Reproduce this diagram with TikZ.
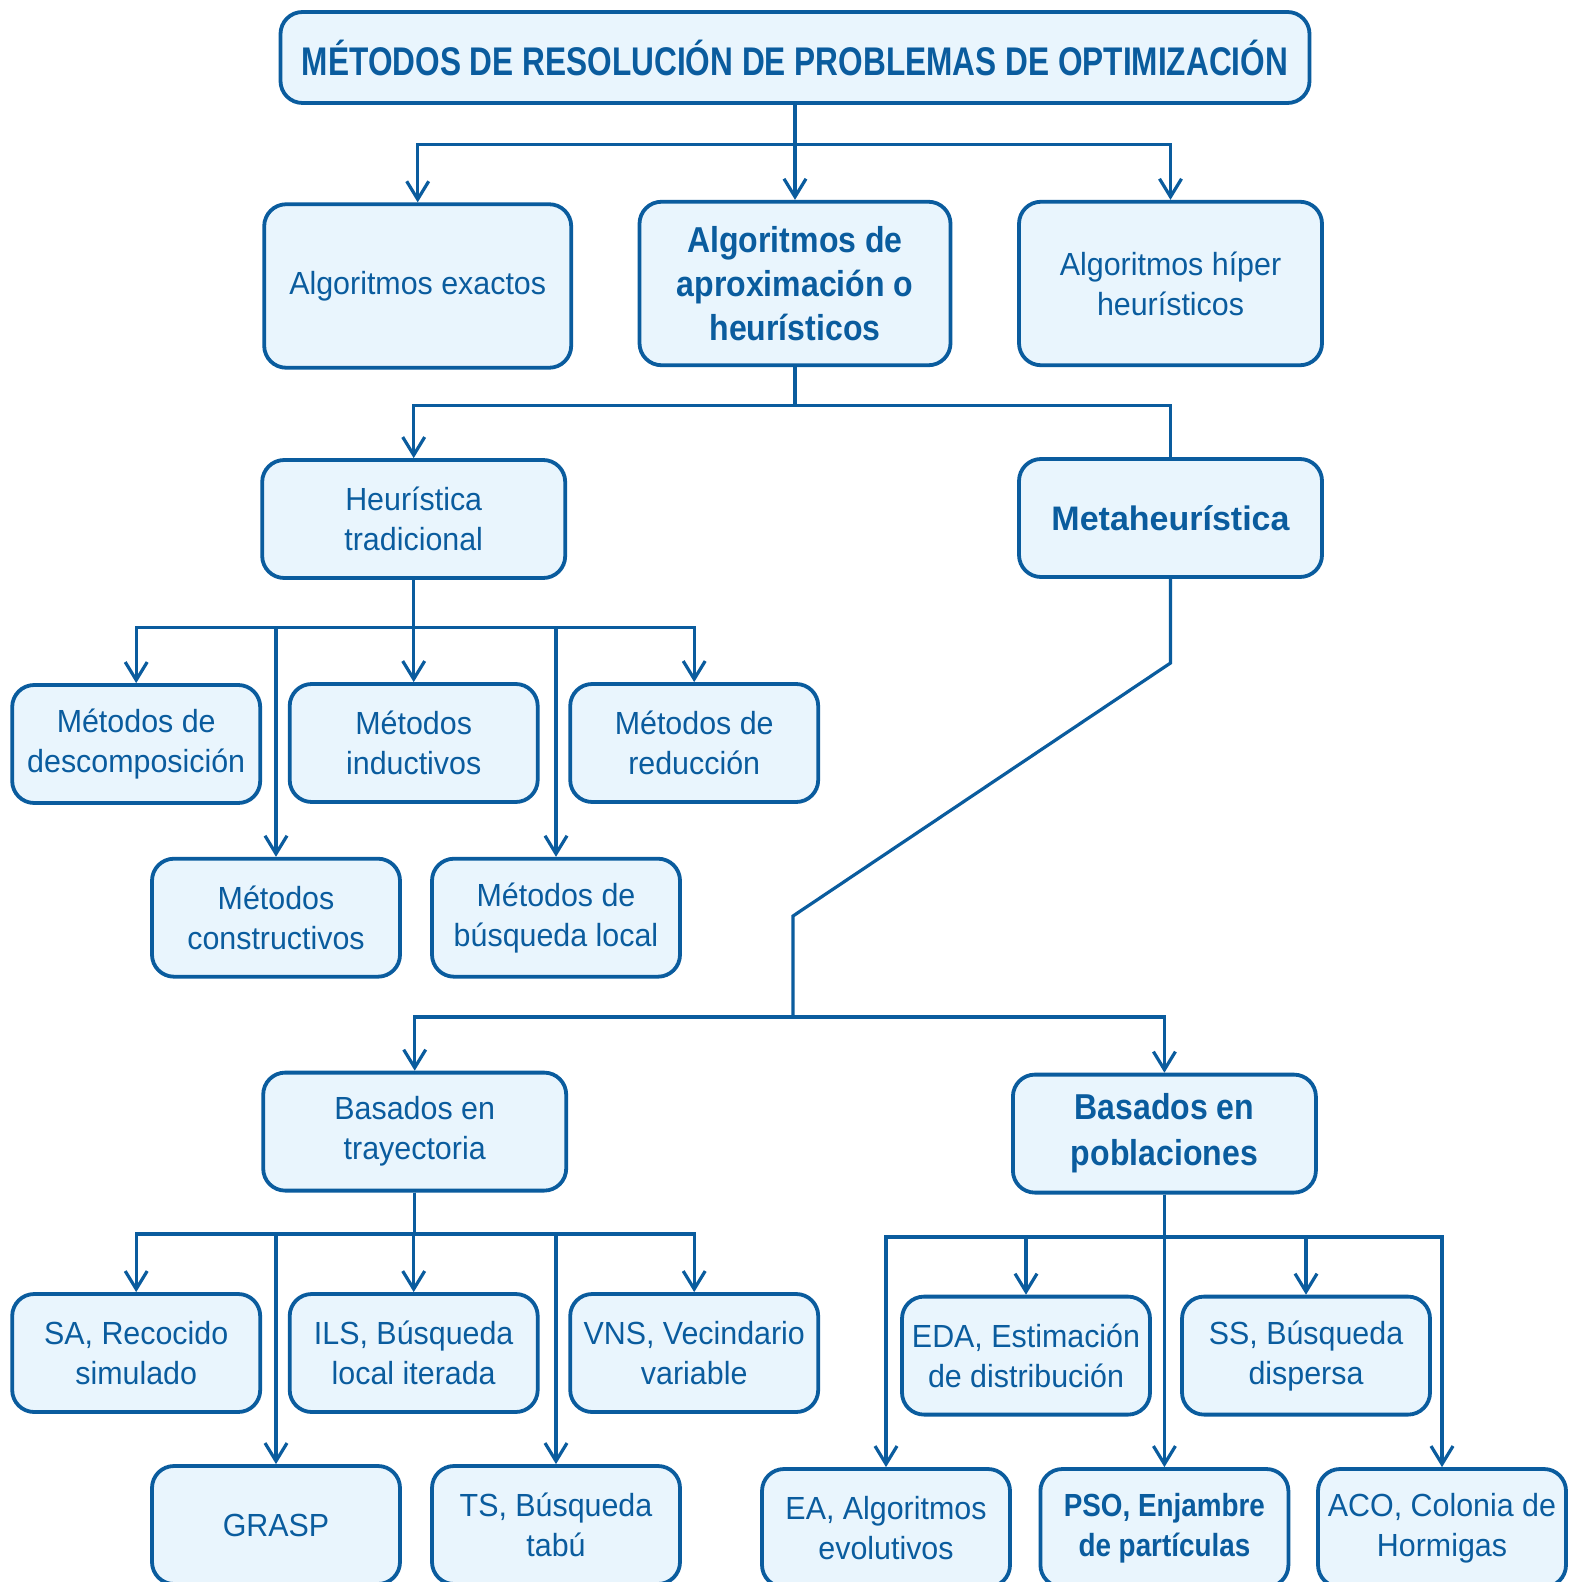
\documentclass[tikz,border=0pt]{standalone}
\usepackage{fontspec}
\setmainfont{Liberation Sans}
\newfontfamily\bodyf[FakeStretch=0.95]{Liberation Sans}
\newfontfamily\titlef[FakeStretch=0.79]{Liberation Sans}
\newfontfamily\boldf[FakeStretch=0.89]{Liberation Sans}
\newfontfamily\psof[FakeStretch=0.87]{Liberation Sans}
\usetikzlibrary{arrows.meta}
\definecolor{dblue}{RGB}{10,92,158}
\definecolor{lfill}{RGB}{233,245,253}
\tikzset{
  box/.style={draw=dblue, fill=lfill, line width=1.9pt, rounded corners=11pt,
    inner sep=0pt, align=center, text=dblue, font=\bodyf\fontsize{16}{20}\selectfont},
  smallbox/.style={box, minimum width=124pt, minimum height=59pt},
  widebox/.style={box, minimum width=151.5pt, minimum height=59pt},
  conn/.style={draw=dblue, line width=1.6pt},
  arr/.style={conn, -{Straight Barb[length=9pt,width=11pt,line width=1.6pt]}}
}
\begin{document}
\begin{tikzpicture}[x=0.5pt,y=-0.5pt]
\useasboundingbox (0,0) rectangle (1568,1582);
\clip (0,0) rectangle (1568,1582);
\fill[white] (0,0) rectangle (1568,1582);

% title
\node[box, minimum width=514.5pt, minimum height=45.5pt, font=\titlef\bfseries\fontsize{20}{24}\selectfont] (title) at (795,57.5)
  {MÉTODOS DE RESOLUCIÓN DE PROBLEMAS DE OPTIMIZACIÓN};

% level 2
\node[box, minimum width=153.5pt, minimum height=81.75pt] (exactos) at (417.7,286) {Algoritmos exactos};
\node[box, minimum width=155.5pt, minimum height=81.75pt, font=\boldf\bfseries\fontsize{18}{22}\selectfont] (aprox) at (795,283.5)
  {Algoritmos de\\aproximación o\\heurísticos};
\node[box, minimum width=151.5pt, minimum height=81.75pt] (hiper) at (1170.5,283.5) {Algoritmos híper\\heurísticos};

% level 3
\node[widebox] (heur) at (413.7,519) {Heurística\\tradicional};
\node[widebox, font=\bfseries\fontsize{17}{20}\selectfont] (meta) at (1170.5,518) {Metaheurística};

% heuristica tradicional children
\node[smallbox] (desc) at (136.2,744) {Métodos de\\descomposición};
\node[smallbox] (induct) at (413.7,743) {Métodos\\inductivos};
\node[smallbox] (reduc) at (694.2,743) {Métodos de\\reducción};
\node[smallbox] (constr) at (276,917.7) {Métodos\\constructivos};
\node[smallbox] (busq) at (556,917.7) {Métodos de\\búsqueda local};

% metaheuristica children
\node[widebox] (tray) at (414.7,1131.6) {Basados en\\trayectoria};
\node[widebox, font=\boldf\bfseries\fontsize{18}{23}\selectfont] (pobl) at (1164.4,1133.6) {Basados en\\poblaciones};

% trayectoria children
\node[smallbox] (sa) at (136.2,1353) {SA, Recocido\\simulado};
\node[smallbox] (ils) at (413.7,1353) {ILS, Búsqueda\\local iterada};
\node[smallbox] (vns) at (694.2,1353) {VNS, Vecindario\\variable};
\node[smallbox] (grasp) at (276,1525) {GRASP};
\node[smallbox] (ts) at (556,1525) {TS, Búsqueda\\tabú};

% poblaciones children
\node[smallbox] (eda) at (1026,1355.6) {EDA, Estimación\\de distribución};
\node[smallbox] (ss) at (1306,1355.6) {SS, Búsqueda\\dispersa};
\node[smallbox] (ea) at (886,1528) {EA, Algoritmos\\evolutivos};
\node[smallbox, font=\psof\bfseries\fontsize{16}{20}\selectfont] (pso) at (1164.4,1528) {PSO, Enjambre\\de partículas};
\node[smallbox] (aco) at (1442,1528) {ACO, Colonia de\\Hormigas};

% connectors: title
\draw[arr] (title.south) -- ++(0,40) -| (exactos.north);
\draw[arr] (title.south) -- (aprox.north);
\draw[arr] (title.south) -- ++(0,40) -| (hiper.north);

% aprox
\draw[arr] (aprox.south) -- ++(0,38.3) -| (heur.north);
\draw[conn] (aprox.south) -- ++(0,38.3) -| (meta.north);

% heuristica tradicional
\draw[arr] (heur.south) -- ++(0,47.6) -| (desc.north);
\draw[arr] (heur.south) -- (induct.north);
\draw[arr] (heur.south) -- ++(0,47.6) -| (reduc.north);
\draw[arr] (heur.south) -- ++(0,47.6) -| (constr.north);
\draw[arr] (heur.south) -- ++(0,47.6) -| (busq.north);

% metaheuristica
\coordinate (mb1) at (1170.5,663);
\coordinate (mb2) at (793,916);
\coordinate (mbus) at (793,1017);
\draw[conn, line join=miter] (meta.south) -- (mb1) -- (mb2) -- (mbus);
\draw[arr] (mbus) -| (tray.north);
\draw[arr] (mbus) -| (pobl.north);

% trayectoria
\draw[arr] (tray.south) -- ++(0,41.4) -| (sa.north);
\draw[arr] (tray.south) -- ++(0,41.4) -| (ils.north);
\draw[arr] (tray.south) -- ++(0,41.4) -| (vns.north);
\draw[arr] (tray.south) -- ++(0,41.4) -| (grasp.north);
\draw[arr] (tray.south) -- ++(0,41.4) -| (ts.north);

% poblaciones
\draw[arr] (pobl.south) -- ++(0,42.4) -| (eda.north);
\draw[arr] (pobl.south) -- ++(0,42.4) -| (ss.north);
\draw[arr] (pobl.south) -- ++(0,42.4) -| (ea.north);
\draw[arr] (pobl.south) -- (pso.north);
\draw[arr] (pobl.south) -- ++(0,42.4) -| (aco.north);
\end{tikzpicture}
\end{document}
